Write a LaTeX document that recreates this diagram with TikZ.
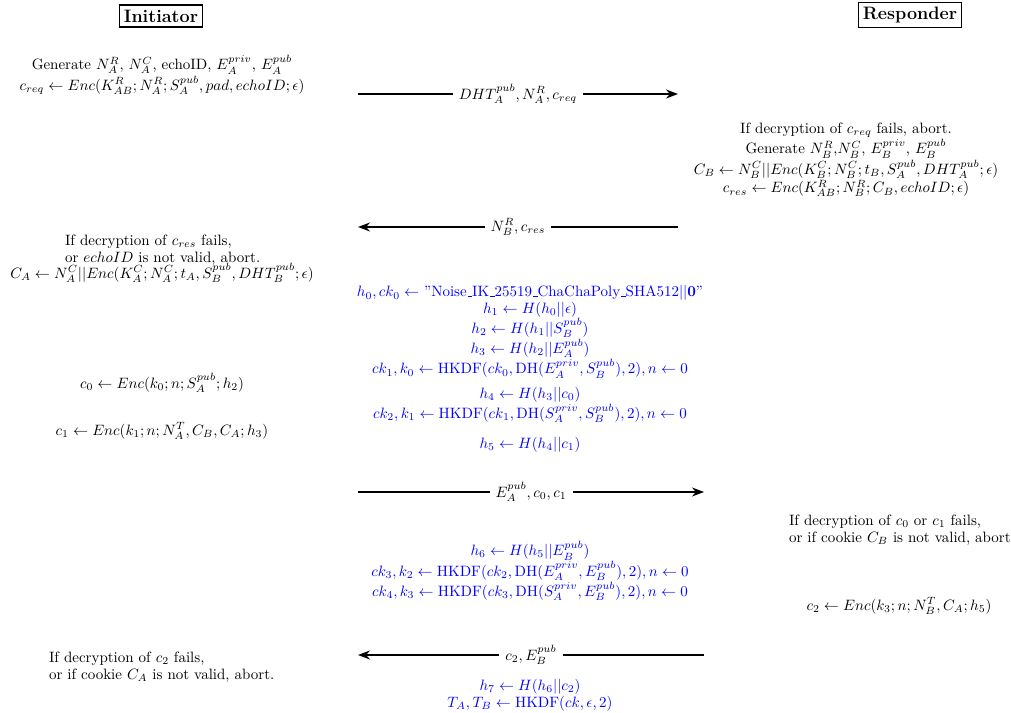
\documentclass[tikz,border=0pt]{standalone}
\usepackage{amsmath}
\usetikzlibrary{arrows.meta}
\newcommand\tightlines{\fontsize{10}{11}\selectfont}
\newcommand\usc{\leavevmode\kern.06em\vbox{\hrule width.3em}}
\tikzset{
  party/.style={draw,line width=1.1pt,font=\large\bfseries,inner sep=3pt},
  tight/.style={font=\tightlines,inner sep=0.5pt},
  act/.style={tight,align=center},
  actl/.style={tight,align=left,anchor=west},
  noise/.style={tight,align=center,text=blue},
  msg/.style={-{Stealth[length=8pt,width=6pt]},line width=0.9pt},
  msglbl/.style={fill=white,inner sep=4pt}
}
\begin{document}
\begin{tikzpicture}[x=0.6667pt,y=-0.6667pt]
\useasboundingbox (0,0) rectangle (1011,713);
% parties
\node[party] (ini) at (161,16) {Initiator};
\node[party] (res) at (910,15) {Responder};
% first message
\node[act] (a1) at (162,75) {Generate $N_A^R$, $N_A^C$, echoID, $E_A^{priv}$, $E_A^{pub}$\\
  $c_{req} \leftarrow Enc(K_{AB}^R; N_A^R; S_A^{pub}, pad, echoID; \epsilon)$};
\coordinate (m1s) at (358,94);
\coordinate (m1e) at (678,94);
\draw[msg] (m1s) -- node[msglbl] (l1) {$DHT_A^{pub}, N_A^R, c_{req}$} (m1e);
\node[act] (b1) at (846,160) {If decryption of $c_{req}$ fails, abort.\\
  Generate $N_B^R$,$N_B^C$, $E_B^{priv}$, $E_B^{pub}$\\
  $C_B \leftarrow N_B^C || Enc(K_B^C; N_B^C; t_B, S_A^{pub}, DHT_A^{pub}; \epsilon)$\\
  $c_{res} \leftarrow Enc(K_{AB}^R; N_B^R; C_B, echoID; \epsilon)$};
% second message
\coordinate (m2s) at (678,227);
\coordinate (m2e) at (358,227);
\draw[msg] (m2s) -- node[msglbl] (l2) {$N_B^R, c_{res}$} (m2e);
\node[actl] (a2) at (64,250) {If decryption of $c_{res}$ fails,\\
  or $echoID$ is not valid, abort.};
\node[act] (a3) at (162,273) {$C_A \leftarrow N_A^C || Enc(K_A^C; N_A^C; t_A, S_B^{pub}, DHT_B^{pub}; \epsilon)$};
% handshake hashes
\node[noise] (n1) at (530,332) {$h_0, ck_0 \leftarrow$ "Noise\usc IK\usc 25519\usc ChaChaPoly\usc SHA512$||\mathbf{0}$"\\
  $h_1 \leftarrow H(h_0 || \epsilon)$\\
  $h_2 \leftarrow H(h_1 || S_B^{pub})$\\
  $h_3 \leftarrow H(h_2 || E_A^{pub})$\\
  $ck_1, k_0 \leftarrow \text{HKDF}(ck_0, \text{DH}(E_A^{priv}, S_B^{pub}), 2), n \leftarrow 0$};
\node[noise] (n2) at (530,405) {$h_4 \leftarrow H(h_3 || c_0)$\\
  $ck_2, k_1 \leftarrow \text{HKDF}(ck_1, \text{DH}(S_A^{priv}, S_B^{pub}), 2), n \leftarrow 0$};
\node[noise] (n3) at (530,445) {$h_5 \leftarrow H(h_4 || c_1)$};
\node[act] (a4) at (162,383) {$c_0 \leftarrow Enc(k_0; n; S_A^{pub}; h_2)$};
\node[act] (a5) at (162,431) {$c_1 \leftarrow Enc(k_1; n; N_A^T, C_B, C_A; h_3)$};
% third message
\coordinate (m3s) at (358,492);
\coordinate (m3e) at (704,492);
\draw[msg] (m3s) -- node[msglbl] (l3) {$E_A^{pub}, c_0, c_1$} (m3e);
\node[actl] (b2) at (788,530) {If decryption of $c_0$ or $c_1$ fails,\\
  or if cookie $C_B$ is not valid, abort};
\node[noise] (n4) at (530,571) {$h_6 \leftarrow H(h_5 || E_B^{pub})$\\
  $ck_3, k_2 \leftarrow \text{HKDF}(ck_2, \text{DH}(E_A^{priv}, E_B^{pub}), 2), n \leftarrow 0$\\
  $ck_4, k_3 \leftarrow \text{HKDF}(ck_3, \text{DH}(S_A^{priv}, E_B^{pub}), 2), n \leftarrow 0$};
\node[act] (b3) at (899,606) {$c_2 \leftarrow Enc(k_3; n; N_B^T, C_A; h_5)$};
% fourth message
\coordinate (m4s) at (704,655);
\coordinate (m4e) at (358,655);
\draw[msg] (m4s) -- node[msglbl] (l4) {$c_2, E_B^{pub}$} (m4e);
\node[actl] (a6) at (48,667) {If decryption of $c_2$ fails,\\
  or if cookie $C_A$ is not valid, abort.};
\node[noise] (n5) at (530,695) {$h_7 \leftarrow H(h_6 || c_2)$\\
  $T_A, T_B \leftarrow \text{HKDF}(ck, \epsilon, 2)$};
\end{tikzpicture}
\end{document}
